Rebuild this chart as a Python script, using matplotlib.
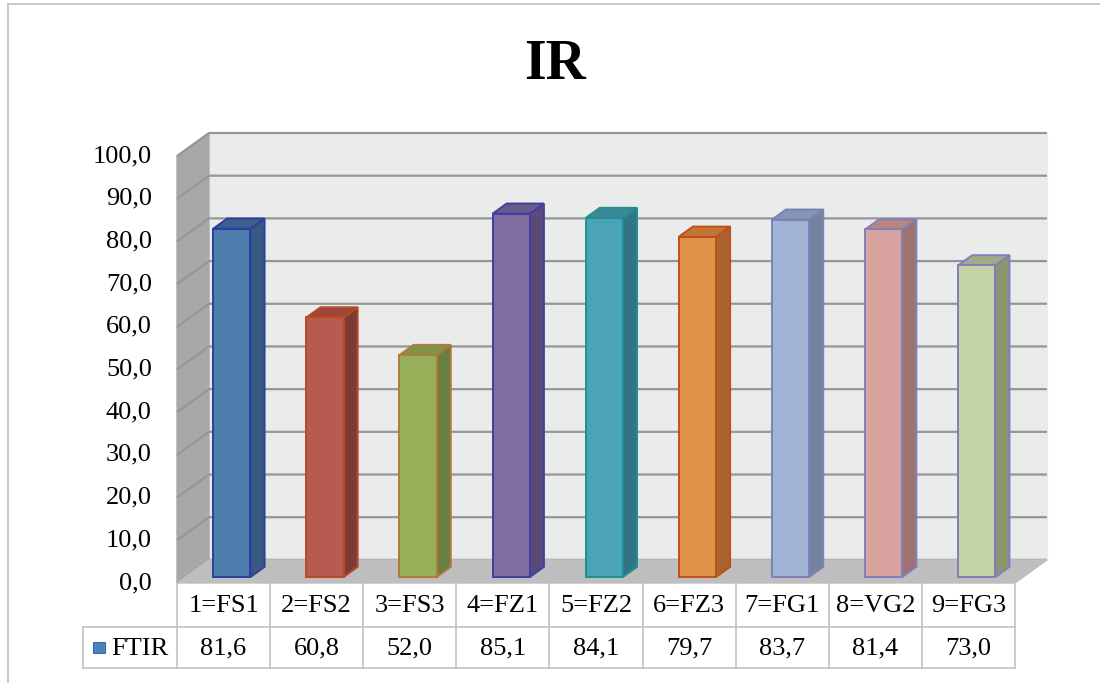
import matplotlib.pyplot as plt
from matplotlib.lines import Line2D
from matplotlib.patches import Rectangle

categories = ["1=FS1", "2=FS2", "3=FS3", "4=FZ1", "5=FZ2", "6=FZ3", "7=FG1", "8=VG2", "9=FG3"]
ftir = [81.6, 60.8, 52.0, 85.1, 84.1, 79.7, 83.7, 81.4, 73.0]
y_ticks = [0, 10, 20, 30, 40, 50, 60, 70, 80, 90, 100]
series_name = "FTIR"
title = "IR"

# face colours: front, side, top, edge
front_colors = ["#4D7EAE", "#B85A50", "#98B05A", "#826DA0", "#4AA3B8",
                "#E0924A", "#A1B4D6", "#D8A29E", "#C4D3A3"]
side_colors = ["#385A82", "#7E3A34", "#6A8040", "#5A4A78", "#317585",
               "#A86430", "#7384A0", "#A07270", "#8A9670"]
top_colors = ["#3C5F8E", "#A0453B", "#7E9448", "#6A5A8E", "#3D8898",
              "#C07838", "#8595B5", "#B88580", "#A0AC85"]
edge_colors = ["#2E3F9E", "#B84A25", "#B07A3A", "#3F3F9F", "#1E9090",
               "#C0501A", "#7F80B8", "#7F80B8", "#7F80B8"]

FONT = "Liberation Serif"

W, H = 1100, 683
fig = plt.figure(figsize=(W / 100, H / 100), dpi=100)
fig.patch.set_facecolor("white")

# chart frame (left and top edges)
fig.add_artist(Line2D([8 / W, 8 / W], [0, 1 - 4 / H], color="#BDBDBD", lw=1.2))
fig.add_artist(Line2D([8 / W, 1], [1 - 4 / H, 1 - 4 / H], color="#BDBDBD", lw=1.2))

n = len(categories)
# depth of the 3D box in data units
DX = 32 / 93.1
DY = 23 / 4.25

ax = fig.add_axes([177 / W, (H - 583) / H, 870 / W, 450 / H])
ax.set_xlim(0, n + DX)
ax.set_ylim(0, 100 + DY)
ax.axis("off")

# back wall, side wall, floor
ax.fill([DX, n + DX, n + DX, DX], [DY, DY, 100 + DY, 100 + DY],
        color="#EAECEC", zorder=1, clip_on=False)
ax.fill([0, DX, DX, 0], [0, DY, 100 + DY, 100], color="#A8A8A8",
        zorder=2, clip_on=False)
ax.fill([0, n, n + DX, DX], [0, 0, DY, DY], color="#BEBEBE",
        zorder=3, clip_on=False)

for v in y_ticks:
    ax.plot([0, DX, n + DX], [v, v + DY, v + DY], color="#969696", lw=1.6,
            zorder=2.5, clip_on=False, solid_capstyle="butt")
    ax.text(-0.27, v, f"{v:.1f}".replace(".", ","), ha="right", va="center",
            fontsize=19, family=FONT, color="black")

# bars
bw = 0.4
d0, d1 = 0.26, 0.70
for i, v in enumerate(ftir):
    x0 = i + (1 - bw) / 2 + d0 * DX
    x1 = x0 + bw
    b = d0 * DY
    t = v + d0 * DY
    ddx = (d1 - d0) * DX
    ddy = (d1 - d0) * DY
    ec = edge_colors[i]
    ax.fill([x1, x1 + ddx, x1 + ddx, x1], [b, b + ddy, t + ddy, t],
            facecolor=side_colors[i], edgecolor=ec, lw=1.4, zorder=5, clip_on=False)
    ax.fill([x0, x0 + ddx, x1 + ddx, x1], [t, t + ddy, t + ddy, t],
            facecolor=top_colors[i], edgecolor=ec, lw=1.4, zorder=5, clip_on=False)
    ax.fill([x0, x1, x1, x0], [b, b, t, t],
            facecolor=front_colors[i], edgecolor=ec, lw=1.4, zorder=6, clip_on=False)

# data table below the floor
row1 = -44 / 4.269
row2 = -85 / 4.269
grid_kw = dict(color="#BDBDBD", lw=1.1, clip_on=False, zorder=4)
ax.plot([-1.01, n], [row1, row1], **grid_kw)
ax.plot([-1.01, n], [row2, row2], **grid_kw)
ax.plot([-1.01, -1.01], [row1, row2], **grid_kw)
for k in range(n + 1):
    ax.plot([k, k], [0, row2], **grid_kw)

for i, (c, v) in enumerate(zip(categories, ftir)):
    ax.text(i + 0.5, row1 / 2 - 0.3, c, ha="center", va="center",
            fontsize=19, family=FONT)
    ax.text(i + 0.5, (row1 + row2) / 2 - 0.3, f"{v:.1f}".replace(".", ","),
            ha="center", va="center", fontsize=19, family=FONT)

ax.add_patch(Rectangle((-0.9, (row1 + row2) / 2 - 1.3), 0.13, 2.6,
                       facecolor="#4F81BD", edgecolor="#3B6BA5", lw=0.8,
                       clip_on=False, zorder=5))
ax.text(-0.71, (row1 + row2) / 2 - 0.3, series_name, ha="left", va="center",
        fontsize=19, family=FONT)

fig.text(555 / W, 1 - 65 / H, title, ha="center", va="center",
         fontsize=40, fontweight="bold", family=FONT)

fig.savefig("out.png", dpi=100)
